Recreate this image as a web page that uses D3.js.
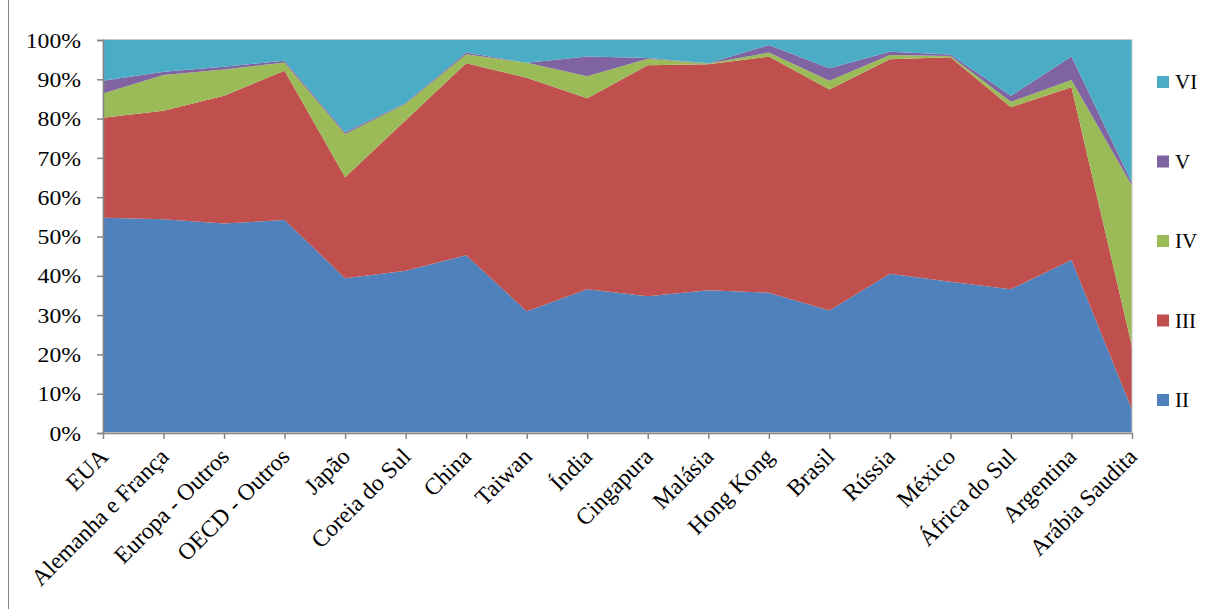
<!DOCTYPE html>
<html>
<head>
<meta charset="utf-8">
<script src="https://cdn.jsdelivr.net/npm/d3@7"></script>
<style>
  html, body { margin: 0; padding: 0; background: #fff; }
  svg { display: block; font-family: "Liberation Serif", "Times New Roman", serif; }
</style>
</head>
<body>
<svg id="chart" width="1206" height="609"></svg>
<script>
const categories = [
  "EUA", "Alemanha e França", "Europa - Outros", "OECD - Outros", "Japão",
  "Coreia do Sul", "China", "Taiwan", "Índia", "Cingapura", "Malásia",
  "Hong Kong", "Brasil", "Rússia", "México", "África do Sul", "Argentina",
  "Arábia Saudita"
];
const seriesNames = ["II", "III", "IV", "V", "VI"];
const valuesII  = [54.8, 54.4, 53.3, 54.2, 39.4, 41.3, 45.2, 31.0, 36.6, 34.8, 36.3, 35.7, 31.2, 40.5, 38.5, 36.6, 44.0, 6.0];
const valuesIII = [25.4, 27.6, 32.5, 38.0, 25.7, 38.3, 48.9, 59.4, 48.6, 58.8, 57.5, 60.1, 56.2, 54.6, 57.1, 46.3, 44.0, 16.0];
const valuesIV  = [6.2, 9.1, 6.7, 2.1, 11.0, 4.2, 2.3, 3.8, 5.6, 1.6, 0.2, 1.0, 2.2, 1.1, 0.3, 1.4, 1.8, 40.9];
const valuesV   = [3.2, 0.8, 0.7, 0.4, 0.4, 0.2, 0.4, 0.0, 5.0, 0.2, 0.1, 1.9, 3.2, 0.8, 0.4, 1.5, 6.0, 0.7];
const valuesVI  = [10.4, 8.1, 6.8, 5.3, 23.5, 16.0, 3.2, 5.8, 4.2, 4.6, 5.9, 1.3, 7.2, 3.0, 3.7, 14.2, 4.2, 36.4];
const yTicks = [0, 0.1, 0.2, 0.3, 0.4, 0.5, 0.6, 0.7, 0.8, 0.9, 1];
const colors = ["#4F81BD", "#C0504D", "#9BBB59", "#8064A2", "#4BACC6"];

const margin = { top: 40, right: 74, bottom: 176, left: 103 };
const width = 1206;
const height = 609;

const rows = categories.map((name, i) => ({
  name,
  II: valuesII[i],
  III: valuesIII[i],
  IV: valuesIV[i],
  V: valuesV[i],
  VI: valuesVI[i],
}));

const stacked = d3.stack()
  .keys(seriesNames)
  .offset(d3.stackOffsetExpand)(rows);

const x = d3.scalePoint()
  .domain(categories)
  .range([margin.left, width - margin.right]);

const y = d3.scaleLinear()
  .domain([0, 1])
  .range([height - margin.bottom, margin.top]);

const svg = d3.select("#chart");

// outer chart frame
svg.append("rect")
  .attr("x", 8.5)
  .attr("y", -2)
  .attr("width", 1300)
  .attr("height", 700)
  .attr("fill", "none")
  .attr("stroke", "#868686")
  .attr("stroke-width", 1);

const area = d3.area()
  .x((d) => x(d.data.name))
  .y0((d) => y(d[0]))
  .y1((d) => y(d[1]));

svg.append("g")
  .selectAll("path")
  .data(stacked)
  .join("path")
  .attr("fill", (d, i) => colors[i])
  .attr("d", area);

// plot area border
svg.append("rect")
  .attr("x", margin.left)
  .attr("y", margin.top - 0.5)
  .attr("width", width - margin.right - margin.left)
  .attr("height", height - margin.bottom - margin.top)
  .attr("fill", "none")
  .attr("stroke", "#c8c8c8")
  .attr("stroke-width", 1);

const yAxis = svg.append("g")
  .attr("transform", `translate(${margin.left},0)`)
  .call(d3.axisLeft(y).tickValues(yTicks).tickSize(6).tickPadding(16).tickFormat(d3.format(".0%")));

const xAxis = svg.append("g")
  .attr("transform", `translate(0,${height - margin.bottom})`)
  .call(d3.axisBottom(x).tickSize(6).tickSizeOuter(0));

for (const g of [yAxis, xAxis]) {
  g.select(".domain").attr("stroke", "#868686").attr("stroke-width", 1.5);
  g.selectAll(".tick line").attr("stroke", "#868686").attr("stroke-width", 1.5);
  g.selectAll("text")
    .attr("fill", "#000")
    .attr("font-family", "'Liberation Serif', 'Times New Roman', serif")
    .attr("font-size", 21);
}

// the original tick labels are a little wider than the font, so stretch them
yAxis.selectAll("text")
  .attr("x", 0)
  .attr("dy", "0.34em")
  .attr("transform", "translate(-22,0) scale(1.13,1)");

xAxis.selectAll("text")
  .attr("text-anchor", "end")
  .attr("font-size", 23.5)
  .attr("x", 0)
  .attr("y", 0)
  .attr("dy", 0)
  .attr("transform", "translate(6,25) rotate(-45)");

// legend
const legend = svg.append("g")
  .selectAll("g")
  .data(seriesNames.slice().reverse())
  .join("g")
  .attr("transform", (d, i) => `translate(1157,${82 + i * 79.5})`);

legend.append("rect")
  .attr("x", 0)
  .attr("y", -6)
  .attr("width", 12)
  .attr("height", 12)
  .attr("fill", (d) => colors[seriesNames.indexOf(d)]);

legend.append("text")
  .attr("x", 18)
  .attr("y", 0)
  .attr("dy", "0.35em")
  .attr("font-size", 21)
  .attr("fill", "#000")
  .text((d) => d);
</script>
</body>
</html>
